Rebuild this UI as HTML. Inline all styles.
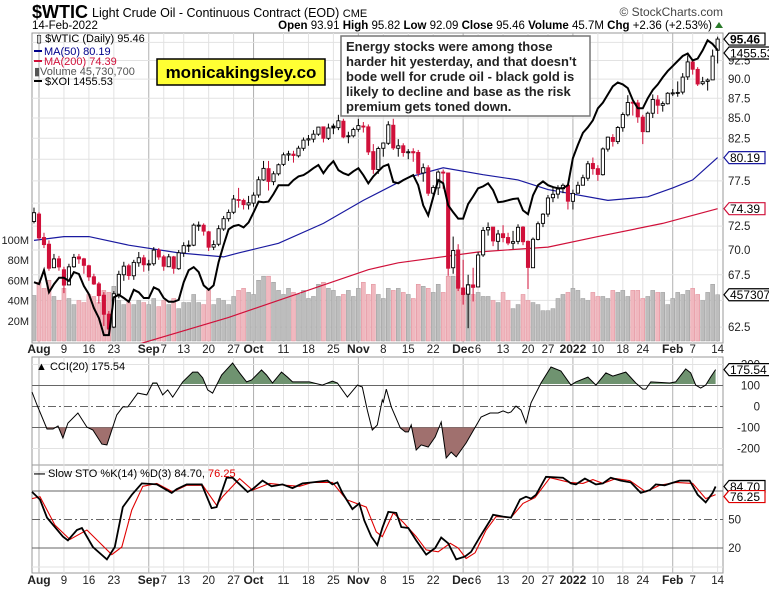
<!DOCTYPE html>
<html><head><meta charset="utf-8"><style>
body{margin:0;background:#fff;}
svg{display:block;font-family:"Liberation Sans",sans-serif;}
</style></head><body>
<svg id="c" width="769" height="589" viewBox="0 0 769 589" xmlns="http://www.w3.org/2000/svg">
<defs>
<clipPath id="mainClip"><rect x="32" y="33" width="691" height="310"/></clipPath>
<clipPath id="cciUp"><rect x="32" y="357" width="691" height="27"/></clipPath>
<clipPath id="cciDn"><rect x="32" y="427.5" width="691" height="37"/></clipPath>
</defs>
<g id="grid"></g>
<g id="vol"></g>
<g id="mas"></g>
<g id="candles"></g>
<g id="xoi"></g>
<g id="cci"></g>
<g id="sto"></g>
<g id="axes"></g>

<text x="32" y="18" font-size="18" font-weight="bold">$WTIC</text>
<text x="92" y="17" font-size="12.5">Light Crude Oil - Continuous Contract (EOD) <tspan font-size="11">CME</tspan></text>
<text x="32" y="29" font-size="11.5">14-Feb-2022</text>
<text x="723" y="16" font-size="12" fill="#444" text-anchor="end">© StockCharts.com</text>
<text x="712" y="29" font-size="11.5" text-anchor="end"><tspan font-weight="bold">Open</tspan> 93.91 <tspan font-weight="bold">High</tspan> 95.82 <tspan font-weight="bold">Low</tspan> 92.09 <tspan font-weight="bold">Close</tspan> 95.46 <tspan font-weight="bold">Volume</tspan> 45.7M <tspan font-weight="bold">Chg</tspan> +2.36 (+2.53%)</text>
<polygon points="715,28 723,28 719,22" fill="#2a7a2a"/>

<g font-size="11">
<text x="36" y="42">▯ $WTIC (Daily) 95.46</text>
<line x1="34" y1="51" x2="42" y2="51" stroke="#00008b" stroke-width="2"/>
<text x="44" y="55" fill="#00008b">MA(50) 80.19</text>
<line x1="34" y1="61" x2="42" y2="61" stroke="#d0103a" stroke-width="2"/>
<text x="44" y="65" fill="#d0103a">MA(200) 74.39</text>
<text x="34" y="75" fill="#555">▮Volume 45,730,700</text>
<line x1="34" y1="81" x2="42" y2="81" stroke="#000" stroke-width="2"/>
<text x="45" y="85">$XOI 1455.53</text>
</g>

<g>
<rect x="157" y="59" width="168" height="26" fill="#ffff33" stroke="#000" stroke-width="1.5"/>
<text x="241" y="78" font-size="17" font-weight="bold" text-anchor="middle">monicakingsley.co</text>
</g>
<g>
<rect x="341" y="36" width="249" height="80" fill="#fff" stroke="#777" stroke-width="1.5"/>
<text font-size="13" font-weight="bold" fill="#222">
<tspan x="346" y="51">Energy stocks were among those</tspan>
<tspan x="346" y="66">harder hit yesterday, and that doesn't</tspan>
<tspan x="346" y="81">bode well for crude oil - black gold is</tspan>
<tspan x="346" y="96">likely to decline and base as the risk</tspan>
<tspan x="346" y="111">premium gets toned down.</tspan>
</text>
</g>
</svg>
<script>
const closes=[73.95,
71.26,70.56,68.15,69.09,68.28,
66.48,68.29,69.25,69.09,68.44,
67.29,66.59,65.46,63.69,62.32,
65.64,67.54,68.36,67.42,68.74,
69.21,68.50,68.59,69.99,69.29,
68.35,69.30,68.14,69.72,
70.45,70.46,72.61,72.61,71.97,
70.29,70.56,72.23,73.30,73.98,
75.45,75.29,74.83,75.03,75.88,
77.62,78.93,77.43,78.30,79.35,
80.52,80.64,80.44,81.31,82.28,
82.44,83.00,83.87,82.50,83.76,
83.76,84.65,82.66,82.81,83.57,
84.05,83.91,80.86,78.81,81.27,
81.93,84.15,81.34,81.59,80.79,
80.88,80.76,78.36,79.01,76.10,
76.75,78.50,78.39,68.15,
69.95,66.18,65.57,66.50,66.26,
69.49,72.05,72.36,70.94,71.67,
71.29,70.73,70.87,72.38,70.86,
68.23,71.12,72.76,73.79,
75.57,75.98,76.56,76.99,75.21,
76.08,76.99,77.85,79.46,78.90,
78.23,81.22,82.64,82.12,83.82,
85.43,86.96,86.90,85.14,
83.31,85.60,87.35,86.61,86.82,
88.15,88.20,88.26,90.27,92.31,
91.32,89.36,89.66,89.88,93.10,
95.46];
const opens=[73.0,
73.8,71.3,70.6,68.2,69.1,
68.0,66.5,68.3,69.3,69.1,
68.4,67.3,66.6,65.5,63.7,
62.5,65.6,67.5,68.4,67.4,
68.7,69.2,68.5,68.6,70.0,
69.3,68.3,69.3,68.1,
69.7,70.5,70.5,72.6,72.6,
71.9,70.3,70.6,72.2,73.3,
74.0,75.4,75.3,74.8,75.0,
75.9,77.6,78.9,77.4,78.3,
79.4,80.5,80.6,80.4,81.3,
82.3,82.4,83.0,83.9,82.5,
84.0,83.8,84.6,82.7,82.8,
83.6,84.0,83.9,80.9,78.8,
81.3,81.9,84.1,81.3,81.6,
80.8,80.9,80.8,78.4,79.0,
76.1,76.7,78.5,78.4,
68.2,70.0,66.2,65.6,66.5,
66.3,69.5,72.1,72.4,70.9,
71.7,71.3,70.7,70.9,72.4,
70.9,68.2,71.1,72.8,
73.8,75.6,76.0,76.6,77.0,
75.2,76.1,77.0,77.8,79.5,
78.9,78.2,81.2,82.6,82.1,
83.8,85.4,87.0,86.9,
85.1,83.3,85.6,87.3,86.6,
86.8,88.2,88.2,88.3,90.3,
92.3,91.3,89.4,89.7,89.9,
93.9];
const highs=[74.5,
74.0,71.8,71.0,69.6,69.4,
68.3,68.6,69.6,69.6,69.2,
68.5,67.6,66.8,65.8,64.0,
65.9,67.9,68.8,68.6,69.0,
69.8,69.5,69.0,70.3,70.2,
69.5,69.6,69.4,70.0,
70.8,71.0,72.8,73.0,72.8,
72.0,71.0,72.6,73.6,74.3,
75.9,76.7,75.5,75.8,76.2,
78.0,79.8,79.8,78.6,79.5,
80.8,81.0,81.0,81.6,82.6,
82.9,83.5,83.9,83.9,84.3,
84.3,85.4,84.9,83.3,83.8,
84.9,84.5,84.2,81.8,81.5,
82.0,84.6,84.9,82.4,81.9,
81.2,81.3,81.1,79.5,79.3,
77.0,78.7,78.8,78.4,
71.4,70.6,69.0,67.5,68.2,
69.8,72.4,72.9,72.4,72.1,
72.6,71.8,72.0,72.7,72.5,
71.0,71.3,73.0,73.9,
75.9,76.8,77.0,77.2,77.1,
76.5,77.4,78.2,79.8,80.2,
79.3,81.4,82.7,83.0,84.0,
85.7,87.9,87.2,87.3,
85.4,85.8,88.0,87.9,87.1,
88.3,88.7,89.7,90.8,93.2,
92.7,91.6,90.3,90.1,94.0,
95.8];
const lows=[72.8,
71.0,70.2,67.9,68.2,67.9,
65.7,66.5,68.2,68.6,67.6,
66.9,66.5,64.7,62.6,61.7,
62.4,65.2,66.9,67.0,67.0,
68.3,67.8,67.9,68.4,69.0,
67.9,68.3,67.6,68.0,
69.3,69.8,70.4,72.0,71.5,
69.9,70.0,70.4,72.0,73.0,
73.8,74.5,74.3,74.3,74.6,
75.6,77.5,76.4,77.0,78.1,
79.2,79.8,79.6,80.2,81.0,
81.6,82.0,82.8,82.0,82.3,
83.0,83.5,82.5,81.9,82.6,
83.3,83.2,80.5,78.3,78.3,
80.3,81.7,81.1,80.3,80.3,
80.0,79.7,78.0,77.4,75.8,
75.4,75.9,76.6,67.4,
67.6,65.9,64.6,62.4,64.9,
66.3,69.3,71.5,70.4,70.0,
70.8,70.5,70.1,70.6,70.5,
66.1,68.7,71.0,72.4,
73.5,75.1,75.5,76.1,74.3,
74.3,76.1,77.2,77.5,78.2,
77.5,78.1,80.9,81.5,81.8,
83.3,85.2,85.3,84.4,
81.8,83.3,85.0,85.5,85.8,
86.7,87.8,87.7,88.0,89.9,
90.6,89.1,89.2,88.5,89.9,
92.1];
const volumes=[45,
58,52,60,44,40,
52,42,36,40,38,
46,44,38,50,48,
54,40,36,38,36,
40,38,36,42,34,
40,36,42,32,
38,38,46,38,36,
50,36,42,40,36,
44,50,52,48,46,
60,64,64,58,50,
46,52,48,46,50,
42,44,56,58,52,
50,44,46,50,44,
52,58,46,56,46,
42,52,50,52,48,
46,42,56,54,52,
48,56,48,64,
64,60,48,56,46,
48,44,44,40,38,
48,40,32,36,46,
40,38,36,30,
30,32,42,46,48,
52,50,42,40,48,
44,44,42,50,48,
50,44,50,50,
42,44,50,48,48,
36,42,48,46,50,
52,46,40,48,56,
45.7];
const xoiValues=[1087,1084,1106,1071,1084,1094,1094,1089,1103,1100,1081,1068,1046,1030,1003,1003,1063,1067,1062,1056,1075,1071,1062,1062,1079,1075,1062,1056,1056,1059,1087,1106,1111,1103,1082,1075,1082,1119,1146,1171,1176,1178,1174,1182,1198,1215,1214,1215,1227,1241,1241,1241,1249,1255,1257,1262,1268,1273,1260,1271,1279,1265,1260,1257,1263,1268,1257,1244,1255,1263,1271,1274,1246,1244,1249,1253,1257,1241,1209,1193,1222,1249,1244,1209,1198,1188,1188,1211,1223,1236,1239,1244,1233,1214,1215,1217,1219,1220,1201,1195,1225,1241,1247,1241,1238,1236,1236,1241,1284,1305,1324,1333,1344,1363,1372,1385,1398,1404,1401,1395,1376,1363,1363,1379,1392,1401,1412,1422,1430,1438,1446,1450,1439,1442,1455,1471,1465,1455.53];
const ma50Days=[0,6,11,19,29,38,41,49,58,66,75,82,90,97,103,115,123,128,132,137];
const ma50Vals=[71.0,71.4,71.4,70.5,69.7,69.3,69.7,70.7,72.8,75.3,77.9,79.0,78.2,77.6,76.5,75.3,75.7,76.7,77.6,80.19];
const ma200Days=[16,39,67,73,89,103,113,126,137];
const ma200Vals=[60.3,63.4,68.0,68.7,69.8,70.3,71.4,72.8,74.39];
const cciDays=[-0.4,0.6,2.6,3.8,4.8,5.8,6.8,8.8,10.6,11.8,13.6,14.6,16.6,17.8,18.8,20.8,22.6,23.8,24.6,25.8,26.8,27.8,29.8,31.8,32.8,33.8,34.8,35.8,37.6,39.8,41.2,42.6,43.6,45.6,46.6,47.8,49.6,50.8,51.8,55.2,57.8,59.8,60.8,62.8,64.8,65.8,66.8,67.8,68.8,69.8,70,70.6,71.6,73.4,74.4,75,75.6,76.6,77.6,79,80.4,81.6,82.6,83.6,84.6,86.6,89.6,91.4,93,94,95,95.6,96.6,97.6,98.6,99.6,101.6,103.6,105.6,107.6,108.6,111,112.6,114.6,116,118.6,120.6,122,122.6,123.6,127.4,128.6,130.6,131.6,132.6,133.6,134.6,135.6,136.6];
const cciVals=[69,7,-107,-107,-93,-150,-79,-31,-98,-112,-179,-183,-40,-2,-2,64,55,112,112,55,79,45,117,164,164,136,79,64,150,207,160,117,126,174,150,112,164,140,117,117,102,121,112,45,102,93,-17,-112,-88,31,21,83,-2,-102,-121,-121,-88,-207,-183,-193,-145,-74,-245,-217,-240,-174,-50,-31,-31,-21,-31,-26,2,-17,-79,17,112,188,169,102,117,140,102,160,145,164,112,83,83,117,112,117,179,160,102,88,102,140,175.54];
const stoKDays=[-0.4,1.2,2.6,5.8,6.8,8.6,9.6,11.8,14.6,16.2,17.8,19.6,21.6,24.6,27.6,28.6,30.6,33.6,35.6,36.6,38.6,39.8,42.8,43.8,45.8,47.6,49.8,51.8,53.8,55.8,58.8,59.8,60.8,61.8,63.8,65.2,66.2,67.6,68.8,69.8,71,72.6,73.6,75,76.6,78.6,80.4,81.6,83,84.6,86.4,87.6,89.4,91.4,92,94,95.6,97.4,98.6,99.6,100.6,102.6,106,107.6,108.6,110.4,112.6,114,115.6,117.6,119.6,121.6,123.4,124.6,126.4,127.6,129.4,131.4,133,134.6,136,136.6];
const stoKVals=[79,71,52,32,28,39,41,21,8,21,63,76,88,87,78,82,87,87,62,63,94,94,79,82,91,85,87,83,88,89,91,87,89,78,61,67,49,32,23,41,58,57,42,41,28,13,20,31,25,8,11,16,32,49,55,53,52,71,74,72,76,95,94,88,87,93,87,88,94,91,89,78,81,87,86,88,91,91,76,68,78,84.70];
const stoDDays=[-0.4,1.2,4.2,7.2,10.6,15.6,17.6,19.6,21.8,24.6,27.8,30.6,33.8,36.6,37.8,41.2,43.8,47.2,50.6,53.2,55.8,59.8,62.6,64.6,66.6,68.6,69.8,72,74,76.6,78.6,81,83.4,85,86.6,88.4,90.6,92.6,95.6,98,100.4,103.4,107.4,110,112,114,116.6,119.4,122.6,125.4,128.6,132,134.6,136.6];
const stoDVals=[72,74,44,29,39,13,21,60,85,88,79,86,86,65,74,93,81,88,86,85,89,89,71,67,63,37,32,57,47,32,18,16,25,20,9,15,39,53,52,67,73,94,89,88,92,88,93,91,79,86,89,88,72,76.25];
const dateLabels=['Aug','9','16','23','Sep','7','13','20','27','Oct','11','18','25','Nov','8','15','22','Dec','6','13','20','27','2022','10','18','24','Feb','7','14'];
const dateLabelDays=[1,6,11,16,23,26,30,35,40,44,50,55,60,65,70,75,80,86,89,94,99,103,108,113,118,122,128,132,137];
const monthStartDays=[1,23,44,65,86,108,128];
const priceTicks=[62.5,67.5,70.0,72.5,77.5,82.5,85.0,87.5,90.0,92.5];
const priceGrid=[62.5,65,67.5,70,72.5,75,77.5,80,82.5,85,87.5,90,92.5,95];
const volTicks=[20,40,60,80,100];
const cciTicks=[200,100,0,-100,-200];
const stoTicks=[50,20];

const NS='http://www.w3.org/2000/svg';
function mk(parent,tag,attrs){const e=document.createElementNS(NS,tag);for(const k in attrs)e.setAttribute(k,attrs[k]);parent.appendChild(e);return e;}
const X0=32,X1=723;
const xs=i=>34+i*4.99;
const py=p=>118-Math.log(p/85)*680;
const vy=v=>341-v*1.0125;
const xoiY=v=>50+(1455.53-v)/1.587;
const cy=v=>406.5-v*0.21;
const sy=v=>567-v*0.95;

const grid=document.getElementById('grid');
// panel backgrounds/borders
[[33,343],[357,465],[465,573]].forEach((r,k)=>{
  const b=mk(grid,'rect',{x:X0,y:r[0],width:X1-X0,height:r[1]-r[0],fill:'#fff',stroke:'#999','stroke-width':1});
  
  
});
// vertical grid
const weekDays=dateLabelDays;
weekDays.forEach(d=>{
  const strong=monthStartDays.includes(d);
  [[33,343],[357,573]].forEach(r=>{
    const l=mk(grid,'line',{x1:xs(d),x2:xs(d),y1:r[0],y2:r[1],stroke:strong?'#b0b0b0':'#e2e2e2','stroke-width':1});
    
    
  });
});
// horizontal grid main
priceGrid.forEach(p=>{
  const l=mk(grid,'line',{x1:X0,x2:X1,y1:py(p),y2:py(p),stroke:'#e2e2e2'});
  
  
});
// CCI lines
[200,-200].forEach(v=>{const l=mk(grid,'line',{x1:X0,x2:X1,y1:cy(v),y2:cy(v),stroke:'#e2e2e2'});});
[100,-100].forEach(v=>{const l=mk(grid,'line',{x1:X0,x2:X1,y1:cy(v),y2:cy(v),stroke:'#666'});});
{const l=mk(grid,'line',{x1:X0,x2:X1,y1:cy(0),y2:cy(0),stroke:'#666','stroke-dasharray':'8,3,2,3'});}
[80,20].forEach(v=>{const l=mk(grid,'line',{x1:X0,x2:X1,y1:sy(v),y2:sy(v),stroke:'#666'});});
[100,0].forEach(v=>{const l=mk(grid,'line',{x1:X0,x2:X1,y1:sy(v),y2:sy(v),stroke:'#e2e2e2'});});
{const l=mk(grid,'line',{x1:X0,x2:X1,y1:sy(50),y2:sy(50),stroke:'#666','stroke-dasharray':'8,3,2,3'});}

// volume
const vol=document.getElementById('vol');
volumes.forEach((v,i)=>{
  const down=i>0&&closes[i]<closes[i-1];
  const r=mk(vol,'rect',{x:xs(i)-2,y:vy(v),width:4,height:vy(0)-vy(v),fill:down?'#f0b8bf':'#bdbdbd',stroke:down?'#e08a96':'#9a9a9a','stroke-width':0.5});
  
  
});

// MAs
const mas=document.getElementById('mas');
mas.setAttribute('clip-path','url(#mainClip)');
function path(days,vals,fx,fy){return days.map((d,k)=>(k?'L':'M')+fx(d).toFixed(1)+','+fy(vals[k]).toFixed(1)).join('');}
{const p=mk(mas,'path',{d:path(ma200Days,ma200Vals,xs,py),fill:'none',stroke:'#d0103a','stroke-width':1.2});}
{const p=mk(mas,'path',{d:path(ma50Days,ma50Vals,xs,py),fill:'none',stroke:'#1a1aa0','stroke-width':1.2});}

// candles
const cg=document.getElementById('candles');
cg.setAttribute('clip-path','url(#mainClip)');
closes.forEach((c,i)=>{
  const o=opens[i],x=xs(i);
  const red=i>0&&c<closes[i-1];
  const col=red?'#d0103a':'#000';
  const w=mk(cg,'line',{x1:x,x2:x,y1:py(highs[i]),y2:py(lows[i]),stroke:col,'stroke-width':1});
  
  
  const top=py(Math.max(o,c)),bot=py(Math.min(o,c));
  const filled=c<o;
  const b=mk(cg,'rect',{x:x-1.6,y:top,width:3.2,height:Math.max(1,bot-top),fill:filled?col:'#fff',stroke:col,'stroke-width':0.9});
  
  
});

// XOI
const xg=document.getElementById('xoi');
{const p=mk(xg,'path',{d:path(xoiValues.map((v,i)=>i),xoiValues,xs,xoiY),fill:'none',stroke:'#000','stroke-width':2});}

// CCI
const cg2=document.getElementById('cci');
const cciD=path(cciDays,cciVals,xs,cy);
const fx0=xs(cciDays[0]).toFixed(1),fx1=xs(cciDays[cciDays.length-1]).toFixed(1);
{const p=mk(cg2,'path',{d:cciD+'L'+fx1+','+cy(100)+'L'+fx0+','+cy(100)+'Z',fill:'#6f9370','clip-path':'url(#cciUp)'});}
{const p=mk(cg2,'path',{d:cciD+'L'+fx1+','+cy(-100)+'L'+fx0+','+cy(-100)+'Z',fill:'#a0706e','clip-path':'url(#cciDn)'});}
{const p=mk(cg2,'path',{d:cciD,fill:'none',stroke:'#000','stroke-width':1});}
{const t=mk(cg2,'text',{x:36,y:370,'font-size':11});t.textContent='▲ CCI(20) 175.54';}

// STO
const sg=document.getElementById('sto');
{const p=mk(sg,'path',{d:path(stoDDays,stoDVals,xs,sy),fill:'none',stroke:'#e00000','stroke-width':1.1});}
{const p=mk(sg,'path',{d:path(stoKDays,stoKVals,xs,sy),fill:'none',stroke:'#000','stroke-width':1.8});}
{const t=mk(sg,'text',{x:34,y:477,'font-size':11});t.innerHTML='<tspan font-weight="bold">—</tspan> Slow STO %K(14) %D(3) 84.70, <tspan fill="#e00000">76.25</tspan>';}

// axes
const ax=document.getElementById('axes');
[349,580].forEach(yy=>{
  dateLabels.forEach((s,k)=>{
    const bold=monthStartDays.includes(dateLabelDays[k]);
    const t=mk(ax,'text',{x:xs(dateLabelDays[k]),y:yy+4,'font-size':bold?12:11.5,'font-weight':bold?'bold':'normal','text-anchor':'middle',fill:'#222'});
    t.textContent=s;
    
    
  });
});
priceTicks.forEach(p=>{
  const t=mk(ax,'text',{x:728,y:py(p)+4,'font-size':11.5,fill:'#222'});
  t.textContent=p.toFixed(1);
  
  
});
volTicks.forEach(v=>{
  const t=mk(ax,'text',{x:29,y:vy(v)+4,'font-size':11,'text-anchor':'end',fill:'#222'});
  t.textContent=v+'M';
  
  
});
cciTicks.forEach(v=>{
  const t=mk(ax,'text',{x:760,y:cy(v)+4,'font-size':11.5,'text-anchor':'end',fill:'#222'});
  t.textContent=String(v);
  
  
});
stoTicks.forEach(v=>{
  const t=mk(ax,'text',{x:741,y:sy(v)+4,'font-size':11.5,'text-anchor':'end',fill:'#222'});
  t.textContent=String(v);
  
  
});
function tag(y,txt,col,name,w){
  const g=mk(ax,'g',{});
  
  
  mk(g,'polygon',{points:`724,${y} 729,${y-6} ${729+w},${y-6} ${729+w},${y+6} 729,${y+6}`,fill:'#fff',stroke:col,'stroke-width':1.2});
  const t=mk(g,'text',{x:730,y:y+4.5,'font-size':12,'font-weight':col==='#000'&&name.indexOf('price')>=0?'bold':'normal',fill:'#000'});
  t.textContent=txt;
}
tag(py(closes[closes.length-1]),'95.46','#000','price-last-tag',36);
tag(xoiY(xoiValues[xoiValues.length-1])+3,'1455.53','#000','xoi-last-tag',42);
tag(py(ma50Vals[ma50Vals.length-1]),'80.19','#1a1aa0','ma50-last-tag',36);
tag(py(ma200Vals[ma200Vals.length-1]),'74.39','#d0103a','ma200-last-tag',36);
tag(vy(volumes[volumes.length-1]),'4573070','#000','volume-last-tag',45);
tag(cy(cciVals[cciVals.length-1]),'175.54','#000','cci-last-tag',42);
tag(sy(stoKVals[stoKVals.length-1]),'84.70','#000','sto-k-last-tag',36);
tag(sy(stoDVals[stoDVals.length-1])+2,'76.25','#e00000','sto-d-last-tag',36);
</script>
</body></html>
